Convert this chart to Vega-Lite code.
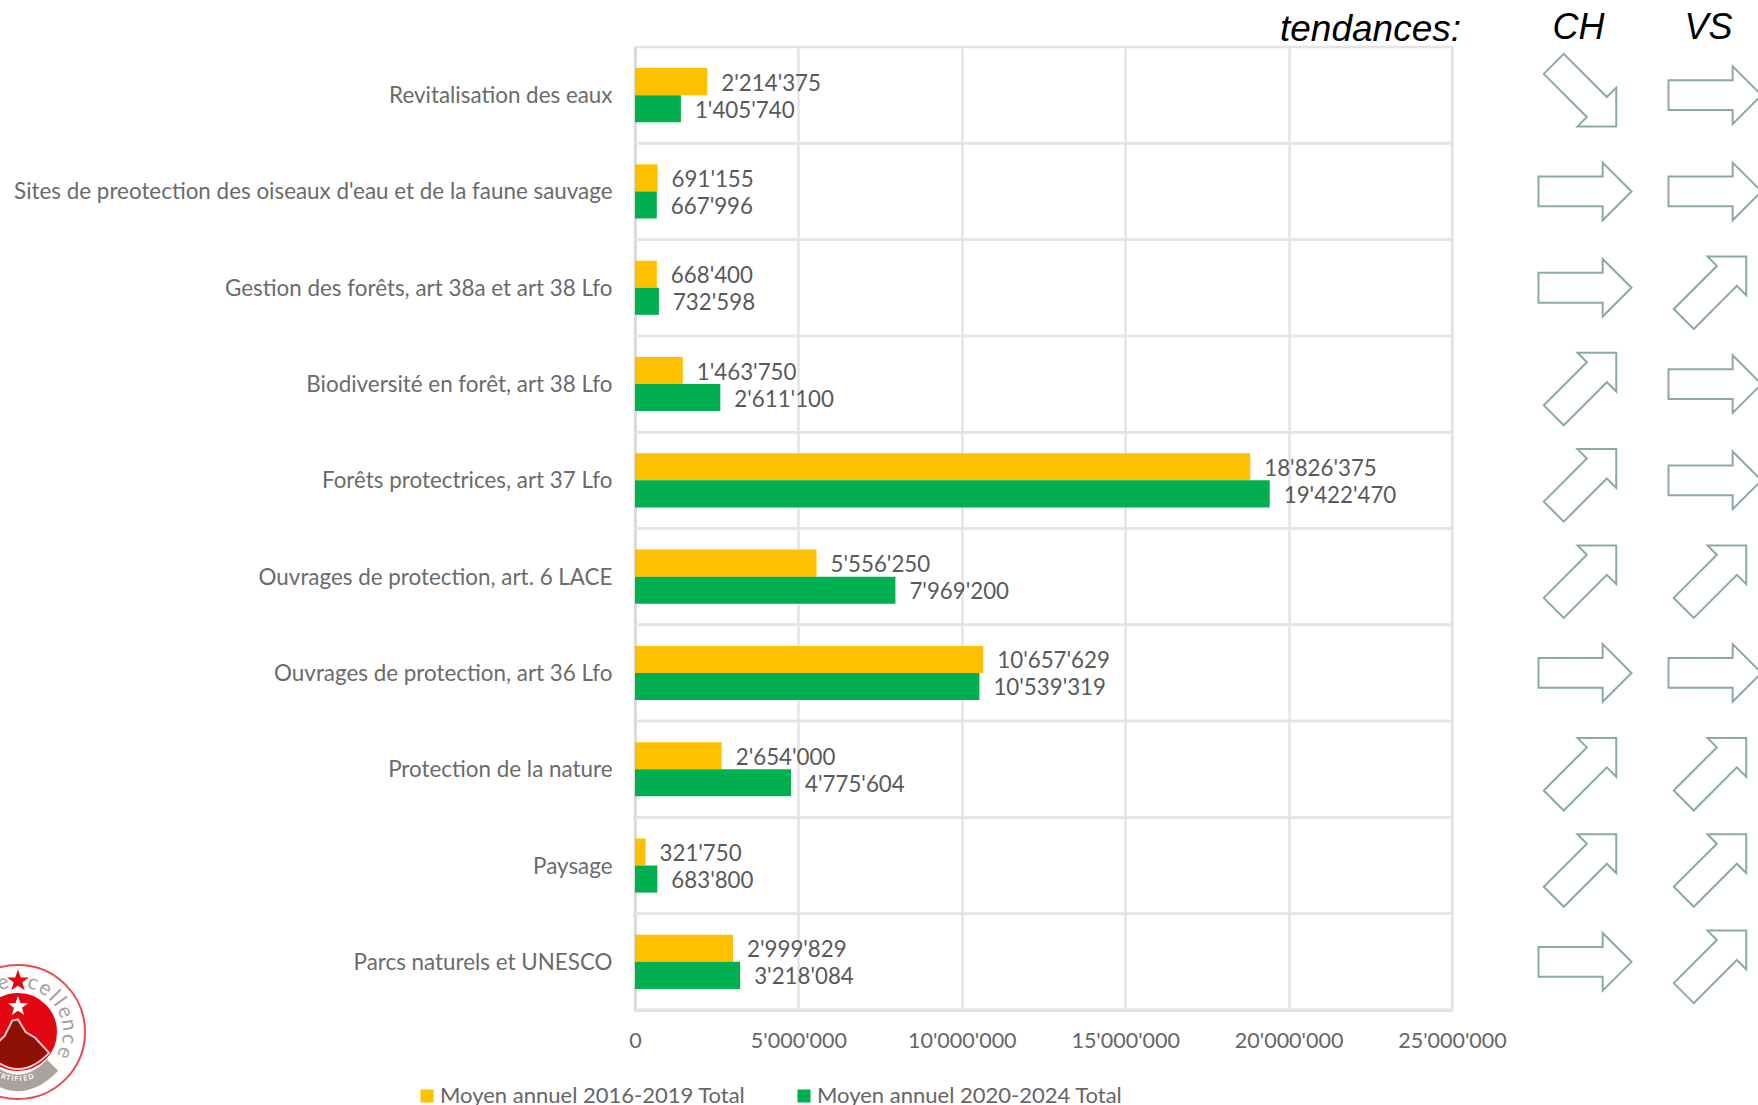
{
"$schema":"https://vega.github.io/schema/vega-lite/v6.json",
"autosize":{"type":"none"},
"padding":{"left":635,"top":47,"right":306,"bottom":95},
"width":817,"height":963,
"background":"white",
"view":{"stroke":"#e4e4e4","strokeWidth":2.5},
"config":{"locale":{"number":{"decimal":".","thousands":"'","grouping":[3],"currency":["",""]}},"font":"Lato"},
"datasets":{
"barres":[
{"categorie":"Revitalisation des eaux","periode":"Moyen annuel 2016-2019 Total","valeur":2214375},
{"categorie":"Revitalisation des eaux","periode":"Moyen annuel 2020-2024 Total","valeur":1405740},
{"categorie":"Sites de preotection des oiseaux d'eau et de la faune sauvage","periode":"Moyen annuel 2016-2019 Total","valeur":691155},
{"categorie":"Sites de preotection des oiseaux d'eau et de la faune sauvage","periode":"Moyen annuel 2020-2024 Total","valeur":667996},
{"categorie":"Gestion des forêts, art 38a et art 38 Lfo","periode":"Moyen annuel 2016-2019 Total","valeur":668400},
{"categorie":"Gestion des forêts, art 38a et art 38 Lfo","periode":"Moyen annuel 2020-2024 Total","valeur":732598},
{"categorie":"Biodiversité en forêt, art 38 Lfo","periode":"Moyen annuel 2016-2019 Total","valeur":1463750},
{"categorie":"Biodiversité en forêt, art 38 Lfo","periode":"Moyen annuel 2020-2024 Total","valeur":2611100},
{"categorie":"Forêts protectrices, art 37 Lfo","periode":"Moyen annuel 2016-2019 Total","valeur":18826375},
{"categorie":"Forêts protectrices, art 37 Lfo","periode":"Moyen annuel 2020-2024 Total","valeur":19422470},
{"categorie":"Ouvrages de protection, art. 6 LACE","periode":"Moyen annuel 2016-2019 Total","valeur":5556250},
{"categorie":"Ouvrages de protection, art. 6 LACE","periode":"Moyen annuel 2020-2024 Total","valeur":7969200},
{"categorie":"Ouvrages de protection, art 36 Lfo","periode":"Moyen annuel 2016-2019 Total","valeur":10657629},
{"categorie":"Ouvrages de protection, art 36 Lfo","periode":"Moyen annuel 2020-2024 Total","valeur":10539319},
{"categorie":"Protection de la nature","periode":"Moyen annuel 2016-2019 Total","valeur":2654000},
{"categorie":"Protection de la nature","periode":"Moyen annuel 2020-2024 Total","valeur":4775604},
{"categorie":"Paysage","periode":"Moyen annuel 2016-2019 Total","valeur":321750},
{"categorie":"Paysage","periode":"Moyen annuel 2020-2024 Total","valeur":683800},
{"categorie":"Parcs naturels et UNESCO","periode":"Moyen annuel 2016-2019 Total","valeur":2999829},
{"categorie":"Parcs naturels et UNESCO","periode":"Moyen annuel 2020-2024 Total","valeur":3218084}
],
"tendances":[
{"categorie":"Revitalisation des eaux","niveau":"CH","tendance":"baisse"},
{"categorie":"Revitalisation des eaux","niveau":"VS","tendance":"stable"},
{"categorie":"Sites de preotection des oiseaux d'eau et de la faune sauvage","niveau":"CH","tendance":"stable"},
{"categorie":"Sites de preotection des oiseaux d'eau et de la faune sauvage","niveau":"VS","tendance":"stable"},
{"categorie":"Gestion des forêts, art 38a et art 38 Lfo","niveau":"CH","tendance":"stable"},
{"categorie":"Gestion des forêts, art 38a et art 38 Lfo","niveau":"VS","tendance":"hausse"},
{"categorie":"Biodiversité en forêt, art 38 Lfo","niveau":"CH","tendance":"hausse"},
{"categorie":"Biodiversité en forêt, art 38 Lfo","niveau":"VS","tendance":"stable"},
{"categorie":"Forêts protectrices, art 37 Lfo","niveau":"CH","tendance":"hausse"},
{"categorie":"Forêts protectrices, art 37 Lfo","niveau":"VS","tendance":"stable"},
{"categorie":"Ouvrages de protection, art. 6 LACE","niveau":"CH","tendance":"hausse"},
{"categorie":"Ouvrages de protection, art. 6 LACE","niveau":"VS","tendance":"hausse"},
{"categorie":"Ouvrages de protection, art 36 Lfo","niveau":"CH","tendance":"stable"},
{"categorie":"Ouvrages de protection, art 36 Lfo","niveau":"VS","tendance":"stable"},
{"categorie":"Protection de la nature","niveau":"CH","tendance":"hausse"},
{"categorie":"Protection de la nature","niveau":"VS","tendance":"hausse"},
{"categorie":"Paysage","niveau":"CH","tendance":"hausse"},
{"categorie":"Paysage","niveau":"VS","tendance":"hausse"},
{"categorie":"Parcs naturels et UNESCO","niveau":"CH","tendance":"stable"},
{"categorie":"Parcs naturels et UNESCO","niveau":"VS","tendance":"hausse"}
],
"logoFormes":[
{"partie":"anneau","rang":"centre"},
{"partie":"bande","rang":"centre"},
{"partie":"disque","rang":"centre"},
{"partie":"montagne","rang":"centre"},
{"partie":"etoileBlanche","rang":"haut2"},
{"partie":"etoileRouge","rang":"haut1"}
],
"logoLettres":[
{"t":"e","a":343},{"t":"c","a":17},{"t":"e","a":32},{"t":"l","a":45},{"t":"l","a":54},{"t":"e","a":67},{"t":"n","a":82},{"t":"c","a":98},{"t":"e","a":114}
],
"logoBas":[
{"t":"C","a":212,"r":32},{"t":"E","a":205,"r":25},{"t":"R","a":198,"r":18},{"t":"T","a":192,"r":12},{"t":"I","a":187,"r":7},{"t":"F","a":182,"r":2},{"t":"I","a":177,"r":357},{"t":"E","a":171,"r":351},{"t":"D","a":164,"r":344}
]
},
"layer":[
{
"data":{"name":"barres"},
"layer":[
{"mark":{"type":"rule","color":"#e4e4e4","strokeWidth":2.5},
 "encoding":{"y":{"field":"categorie","type":"nominal","bandPosition":1,"sort":null}}},
{"mark":{"type":"bar"},
 "encoding":{
  "x":{"field":"valeur","type":"quantitative","scale":{"domain":[0,25000000],"nice":false},
   "axis":{"title":null,"values":[0,5000000,10000000,15000000,20000000,25000000],"format":",d","grid":true,"gridColor":"#e4e4e4","gridWidth":2.5,"domainColor":"#d9d9d9","domainWidth":2.5,"ticks":false,"labelFont":"Lato","labelFontSize":21.5,"labelColor":"#666666","labelPadding":20,"labelFlush":false,"labelOverlap":false,"labelBound":false}},
  "y":{"field":"categorie","type":"nominal","sort":null,"scale":{"paddingInner":0,"paddingOuter":0},
   "axis":{"title":null,"grid":false,"ticks":false,"domainColor":"#d9d9d9","domainWidth":2.5,"labelFont":"Lato","labelFontSize":22.4,"labelColor":"#6b6b6b","labelPadding":23,"labelLimit":700,"labelOffset":1}},
  "yOffset":{"field":"periode","type":"nominal","sort":null,"scale":{"paddingInner":0,"paddingOuter":0.78}},
  "color":{"field":"periode","type":"nominal","sort":null,"scale":{"range":["#FFC000","#00B050"]},
   "legend":{"title":null,"orient":"none","direction":"horizontal","legendX":-219,"legendY":1038,"symbolType":"square","symbolSize":170,"symbolStrokeWidth":0,"symbolOpacity":1,"labelFont":"Lato","labelFontSize":22,"labelColor":"#666666","columnPadding":47,"labelOffset":2,"labelLimit":500}}
 }},
{"mark":{"type":"text","align":"left","baseline":"middle","dx":14,"dy":2,"font":"Lato","fontSize":22.3,"color":"#595959"},
 "encoding":{
  "x":{"field":"valeur","type":"quantitative"},
  "y":{"field":"categorie","type":"nominal","sort":null},
  "yOffset":{"field":"periode","type":"nominal","sort":null},
  "text":{"field":"valeur","type":"quantitative","format":",d"}
 }}
]},
{
"data":{"name":"tendances"},
"mark":{"type":"point","filled":true,"fill":"white","fillOpacity":1,"stroke":"#8aa9a9","strokeWidth":2,"strokeOpacity":1,"size":8649},
"encoding":{
 "x":{"field":"niveau","type":"nominal","scale":{"type":"point","domain":["CH","VS"],"range":[950,1080],"padding":0},
  "axis":{"orient":"top","title":"tendances:","titleX":735,"titleY":-7,"titleBaseline":"alphabetic","titleAlign":"center","titleFont":"Liberation Sans","titleFontStyle":"italic","titleFontWeight":"normal","titleFontSize":37,"titleColor":"#000000","labelFont":"Liberation Sans","labelFontStyle":"italic","labelFontSize":36,"labelColor":"#000000","labelAngle":0,"labelPadding":1,"labelOffset":-7,"ticks":false,"domain":false,"grid":false}},
 "y":{"field":"categorie","type":"nominal","sort":null,"scale":{"type":"band","paddingInner":0,"paddingOuter":0},"axis":null},
 "shape":{"field":"tendance","type":"nominal","legend":null,"scale":{"domain":["stable","hausse","baisse"],"range":[
  "M-1,-0.32L0.38,-0.32L0.38,-0.62L1,0L0.38,0.62L0.38,0.32L-1,0.32Z",
  "M-0.887,0.457L0.04,-0.47L-0.161,-0.672L0.672,-0.672L0.672,0.161L0.47,-0.04L-0.457,0.887Z",
  "M-0.887,-0.457L0.04,0.47L-0.161,0.672L0.672,0.672L0.672,-0.161L0.47,0.04L-0.457,-0.887Z"
 ]}}
}},
{
"data":{"name":"logoFormes"},
"mark":{"type":"point","filled":true,"fillOpacity":1,"strokeOpacity":1},
"encoding":{
 "x":{"field":"partie","type":"nominal","scale":{"type":"point","range":[-617,-617],"padding":0},"axis":null},
 "y":{"field":"rang","type":"nominal","sort":["haut1","haut2","centre"],"scale":{"type":"point","domain":["haut1","haut2","centre"],"range":[934,985],"padding":0},"axis":null},
 "order":{"field":"partie","type":"nominal","sort":null},
 "size":{"field":"partie","type":"nominal","legend":null,"scale":{"type":"ordinal","domain":["anneau","bande","disque","montagne","etoileBlanche","etoileRouge"],"range":[17956,12100,5776,5776,220,280]}},
 "shape":{"field":"partie","type":"nominal","legend":null,"scale":{"domain":["anneau","bande","disque","montagne","etoileBlanche","etoileRouge"],"range":["circle","M-0.707,0.707Q0,1.414,0.707,0.707L0.53,0.53Q0,1.06,-0.53,0.53Z","circle","M-0.82,0.55L-0.35,0.1L-0.15,-0.3L0,-0.33L0.2,0L0.45,0.15L0.82,0.55Q0,1.4,-0.82,0.55Z","M0,-1L0.24,-0.31L0.95,-0.31L0.38,0.12L0.59,0.81L0,0.4L-0.59,0.81L-0.38,0.12L-0.95,-0.31L-0.24,-0.31Z","M0,-1L0.24,-0.31L0.95,-0.31L0.38,0.12L0.59,0.81L0,0.4L-0.59,0.81L-0.38,0.12L-0.95,-0.31L-0.24,-0.31Z"]}},
 "fill":{"field":"partie","type":"nominal","legend":null,"scale":{"domain":["anneau","bande","disque","montagne","etoileBlanche","etoileRouge"],"range":["#ffffff","#a9a29d","#e30613","#8f1105","#ffffff","#e30613"]}},
 "stroke":{"field":"partie","type":"nominal","legend":null,"scale":{"domain":["anneau","bande","disque","montagne","etoileBlanche","etoileRouge"],"range":["#ea4a52","#a9a29d","#e30613","#f3c9c9","#ffffff","#e30613"]}}
}},
{
"data":{"name":"logoLettres"},
"mark":{"type":"text","font":"Lato","fontSize":21,"color":"#a89f9a","radius":51,"align":"center","baseline":"middle"},
"encoding":{
 "x":{"datum":"centre","type":"nominal","scale":{"type":"point","domain":["centre"],"range":[-617,-617],"padding":0},"axis":null},
 "y":{"datum":"centre","type":"nominal","scale":{"type":"point","domain":["centre"],"range":[985,985],"padding":0},"axis":null},
 "theta":{"field":"a","type":"quantitative","scale":{"domain":[0,360],"range":[0,6.28318]}},
 "angle":{"field":"a","type":"quantitative","scale":{"domain":[0,360],"range":[0,360]}},
 "text":{"field":"t","type":"nominal"}
}},
{
"data":{"name":"logoBas"},
"mark":{"type":"text","font":"Lato","fontWeight":"bold","fontSize":7,"color":"#ffffff","radius":47,"align":"center","baseline":"middle"},
"encoding":{
 "x":{"datum":"centre","type":"nominal","scale":{"type":"point","domain":["centre"],"range":[-617,-617],"padding":0},"axis":null},
 "y":{"datum":"centre","type":"nominal","scale":{"type":"point","domain":["centre"],"range":[985,985],"padding":0},"axis":null},
 "theta":{"field":"a","type":"quantitative","scale":{"domain":[0,360],"range":[0,6.28318]}},
 "angle":{"field":"r","type":"quantitative","scale":{"domain":[0,360],"range":[0,360]}},
 "text":{"field":"t","type":"nominal"}
}}
],
"resolve":{"scale":{"x":"independent","y":"independent","color":"independent","shape":"independent","size":"independent","fill":"independent","stroke":"independent","theta":"independent","angle":"independent"},"axis":{"x":"independent","y":"independent"},"legend":{"color":"independent"}}
}
